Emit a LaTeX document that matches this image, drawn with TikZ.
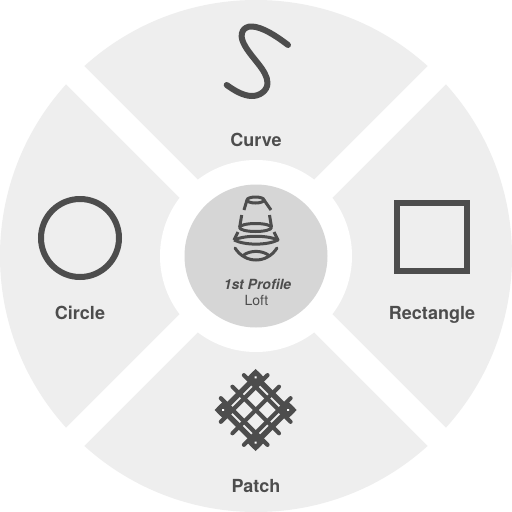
\documentclass[tikz,border=0pt]{standalone}
\usepackage{fontspec}
\setmainfont{TeX Gyre Heros}
\definecolor{sector}{HTML}{EEEEEE}
\definecolor{hub}{HTML}{D6D6D6}
\definecolor{ink}{HTML}{4D4D4D}
\tikzset{
  lbl/.style={font=\fontsize{18}{20}\selectfont\bfseries,text=ink,inner sep=0pt,anchor=base},
  icon/.style={draw=ink,line width=6pt,fill=none},
  loft/.style={draw=ink,line width=3pt,fill=none,line join=round},
  hublbl/.style={font=\fontsize{14}{16}\selectfont,text=ink,inner sep=0pt,anchor=base}
}
\begin{document}
\begin{tikzpicture}[x=1pt,y=-1pt]
\useasboundingbox (0,0) rectangle (512,512);
\fill[white] (0,0) rectangle (512,512);
% wheel
\fill[sector] (256,256) circle[radius=256];
\draw[white,line width=25.5pt] (60,60) -- (452,452);
\draw[white,line width=25.5pt] (452,60) -- (60,452);
\fill[white] (256,256) circle[radius=96];
\fill[hub] (256,256) circle[radius=71.5];
% curve
\draw[icon,line cap=round,line join=round] (288,45) .. controls (275,35) and (262,27) .. (252,26.5)
  .. controls (243,26) and (239,34) .. (243.5,43)
  .. controls (250,57) and (267.5,70) .. (267.5,83)
  .. controls (267.5,91) and (259,96.5) .. (251,96)
  .. controls (243,95.5) and (235,91) .. (226.7,85);
% circle, rectangle
\draw[icon] (80,238) circle[radius=39];
\draw[icon] (397,203) rectangle (467,271);
% patch
\begin{scope}[shift={(255.7,410)},rotate=45,draw=ink]
  \foreach \s in {-1,1}{
    \draw[line width=5.4pt] (\s*23.2,-29) -- (\s*23.2,29);
    \draw[line width=5.4pt] (-29,\s*23.2) -- (29,\s*23.2);
    \draw[line width=4.2pt,line cap=round] (\s*16.3,-33) -- (\s*16.3,33);
    \draw[line width=4.2pt,line cap=round] (-33,\s*16.3) -- (33,\s*16.3);
  }
  \draw[line width=4pt,line cap=round] (0,-33) -- (0,33);
  \draw[line width=4pt,line cap=round] (-33,0) -- (33,0);
  \foreach \a/\b in {-23/-23,23/-23,-23/23,23/23}{
    \fill[ink] (\a-6,\b-6) rectangle (\a+6,\b+6);
    \fill[white] (\a,\b) circle[radius=1.4];
  }
\end{scope}
% loft icon
\draw[loft] (255.5,200) ellipse[x radius=8.5,y radius=3];
\draw[loft] (247,200) -- (244,210);
\draw[loft] (264,200) -- (271,210);
\draw[loft] (241.7,215) -- (239.7,227);
\draw[loft] (269.5,215) -- (271.5,227);
\draw[loft] (255.5,227.5) ellipse[x radius=16,y radius=4];
\draw[loft] (238,232) -- (234,240);
\draw[loft] (274,232) -- (278,240);
\draw[loft] (234,240) .. controls (245,235) and (267,235) .. (278,240)
  .. controls (267,245.5) and (245,245.5) .. (234,240);
\draw[loft,line cap=round] (235,248) .. controls (240,256) and (248,260) .. (256,260)
  .. controls (264,260) and (272,256) .. (277,248);
\draw[loft] (243,255.5) .. controls (250,250) and (262,250) .. (269,255.5);
% labels
\node[lbl] (curve) at (256,146) {Curve};
\node[lbl] (circ) at (80,319) {Circle};
\node[lbl] (rect) at (432,319) {Rectangle};
\node[lbl] (patch) at (256,492) {Patch};
\node[hublbl,font=\fontsize{14}{16}\selectfont\bfseries\itshape] (prof) at (257.5,289) {1st Profile};
\node[hublbl] (loftl) at (256.5,305) {Loft};
\end{tikzpicture}
\end{document}
